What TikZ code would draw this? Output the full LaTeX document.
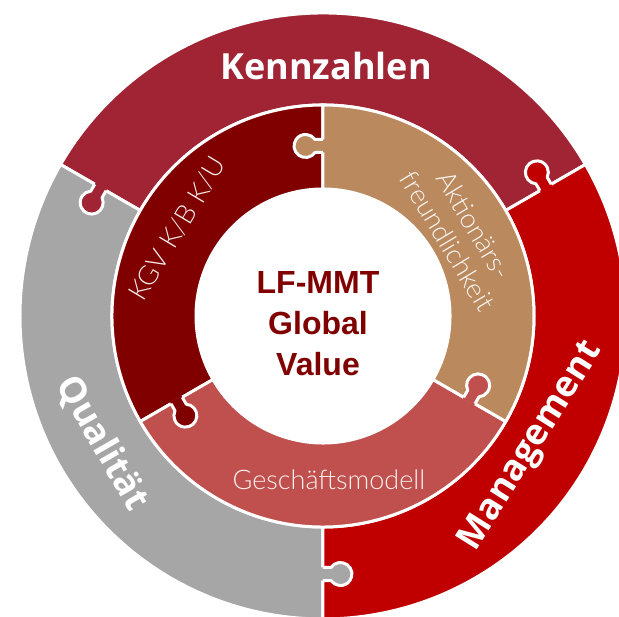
\documentclass[tikz,border=0pt]{standalone}
\usepackage{fontspec}
\setmainfont{Liberation Sans}
\newfontfamily\boldsans{Open Sans}
\newfontfamily\lightsans{Lato Light}

\definecolor{kennzred}{RGB}{160,36,52}
\definecolor{mgmtred}{RGB}{192,0,0}
\definecolor{qualgray}{RGB}{166,166,166}
\definecolor{kgvred}{RGB}{128,0,0}
\definecolor{aktiontan}{RGB}{186,137,94}
\definecolor{geschred}{RGB}{192,80,77}

\begin{document}
\begin{tikzpicture}[x=1pt,y=1pt,line join=round,
	seg/.style={draw=white,line width=3},
	bigtxt/.style={text=white,font=\boldsans\bfseries\fontsize{36}{40}\selectfont},
	ringtxt/.style={text=white,text opacity=0.92,align=center,font=\lightsans\fontsize{27}{31}\selectfont}]
			\useasboundingbox (-323,-301) rectangle (296,316);
			% ring pieces: start/end angle, inner/outer radius, colour
			\foreach \a/\b/\r/\R/\c in {30/150/211/303/kennzred,150/270/211/303/qualgray,270/390/211/303/mgmtred,
				90/210/127/211/kgvred,210/330/127/211/geschred,330/450/127/211/aktiontan}
				\filldraw[seg,fill=\c] (\a:\r) arc[start angle=\a,end angle=\b,radius=\r]
					-- (\b:\R) arc[start angle=\b,end angle=\a,radius=\R] -- cycle;
			% puzzle tabs, all pointing counterclockwise
			\foreach \b/\m/\c in {150/257/kennzred,270/258/qualgray,390/257/mgmtred,
				210/169/kgvred,330/169/geschred,450/170/aktiontan}{
				\begin{scope}[rotate=\b]
					\fill[\c] (\m-6.5,-2) -- (\m-6.5,8) arc[start angle=235.4,end angle=-55.4,radius=11.5] -- (\m+6.5,-2) -- cycle;
					\draw[white,line width=3] (\m-6.5,0) -- (\m-6.5,8) arc[start angle=235.4,end angle=-55.4,radius=11.5] -- (\m+6.5,0);
				\end{scope}
			}
			\node[bigtxt,anchor=base] (kennzahlen) at (3,236) {Kennzahlen};
			\node[bigtxt,rotate=58] (management) at (-32:246) {Management};
			\node[bigtxt,rotate=-60] (qualitaet) at (210:255) {Qualität};
			\node[ringtxt,rotate=59] (kgv) at (149:170) {KGV K/B K/U};
			\node[ringtxt,rotate=-59] (aktionaer) at (31:161) {Aktionärs-\\freundlichkeit};
			\node[ringtxt,anchor=base] (geschaeft) at (6,-174) {Geschäftsmodell};
			\node[text=kgvred,align=center,font=\bfseries\fontsize{32}{41}\selectfont] (mmt) at (-5,-8) {LF-MMT\\Global\\Value};
		\end{tikzpicture}
\end{document}
